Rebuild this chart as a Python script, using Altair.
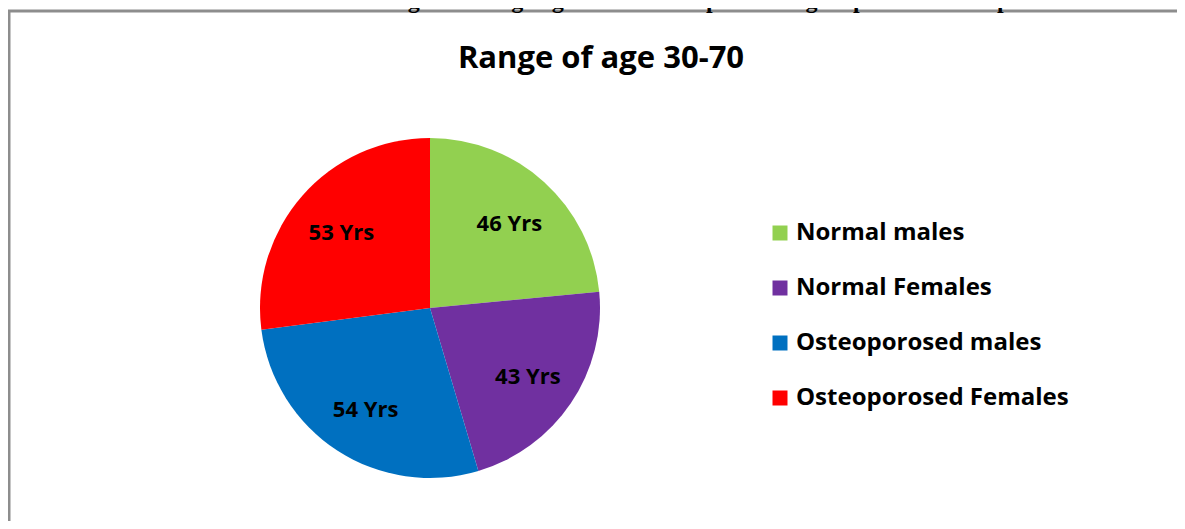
import altair as alt
import pandas as pd

groups = ["Normal males", " Normal Females", "Osteoporosed males", "Osteoporosed Females"]
ages = [46, 43, 54, 53]
labels = ["46 Yrs", "43 Yrs", "54 Yrs", "53 Yrs"]
colors = ["#92D050", "#7030A0", "#0070C0", "#FF0000"]
title_text = ["Range of age 30-70"]
caption_text = ["Pie Chart fig 3: Average age in all  the respondents groups shown in a pie chart"]

df = pd.DataFrame({"group": groups, "age": ages, "label": labels, "order": list(range(len(groups)))})
one = pd.DataFrame({"t": title_text, "c": caption_text})

W, H = 1169, 513
cx, cy = 422, 300
FONT = "Open Sans"

color = alt.Color(
    "group:N",
    scale=alt.Scale(domain=groups, range=colors),
    legend=alt.Legend(
        title=None, orient="none", legendX=760, legendY=213,
        symbolType="square", symbolSize=225, symbolStrokeWidth=0,
        labelFont=FONT, labelFontSize=24, labelFontWeight="bold", labelColor="black",
        rowPadding=31, labelOffset=4, padding=0, labelLimit=500,
    ),
)

base = alt.Chart(df).encode(
    theta=alt.Theta("age:Q", stack=True),
    order=alt.Order("order:Q"),
    x=alt.value(cx), y=alt.value(cy),
)
pie = base.mark_arc(outerRadius=170, stroke=None).encode(color=color)
txt = base.mark_text(radius=118, dy=3, font=FONT, fontWeight="bold", fontSize=22, color="black").encode(text="label:N")

title = alt.Chart(one).mark_text(font=FONT, fontWeight="bold", fontSize=31, color="black", baseline="alphabetic").encode(
    text="t:N", x=alt.value(593), y=alt.value(60))
caption = alt.Chart(one).mark_text(font="Liberation Serif", fontWeight="bold", fontSize=24, color="black", baseline="alphabetic").encode(
    text="c:N", x=alt.value(680), y=alt.value(0))
top_rule = alt.Chart(one).mark_rule(color="#8d8d8d", strokeWidth=3).encode(x=alt.value(0), x2=alt.value(W), y=alt.value(3))
left_rule = alt.Chart(one).mark_rule(color="#8d8d8d", strokeWidth=3).encode(x=alt.value(1), y=alt.value(3), y2=alt.value(H))

chart = alt.layer(top_rule, left_rule, caption, title, pie, txt).properties(
    width=W, height=H, autosize=alt.AutoSizeParams(type="none"), padding=0
).configure_view(stroke=None)

chart.save("out.html", embed_options={"renderer": "svg", "actions": False})
